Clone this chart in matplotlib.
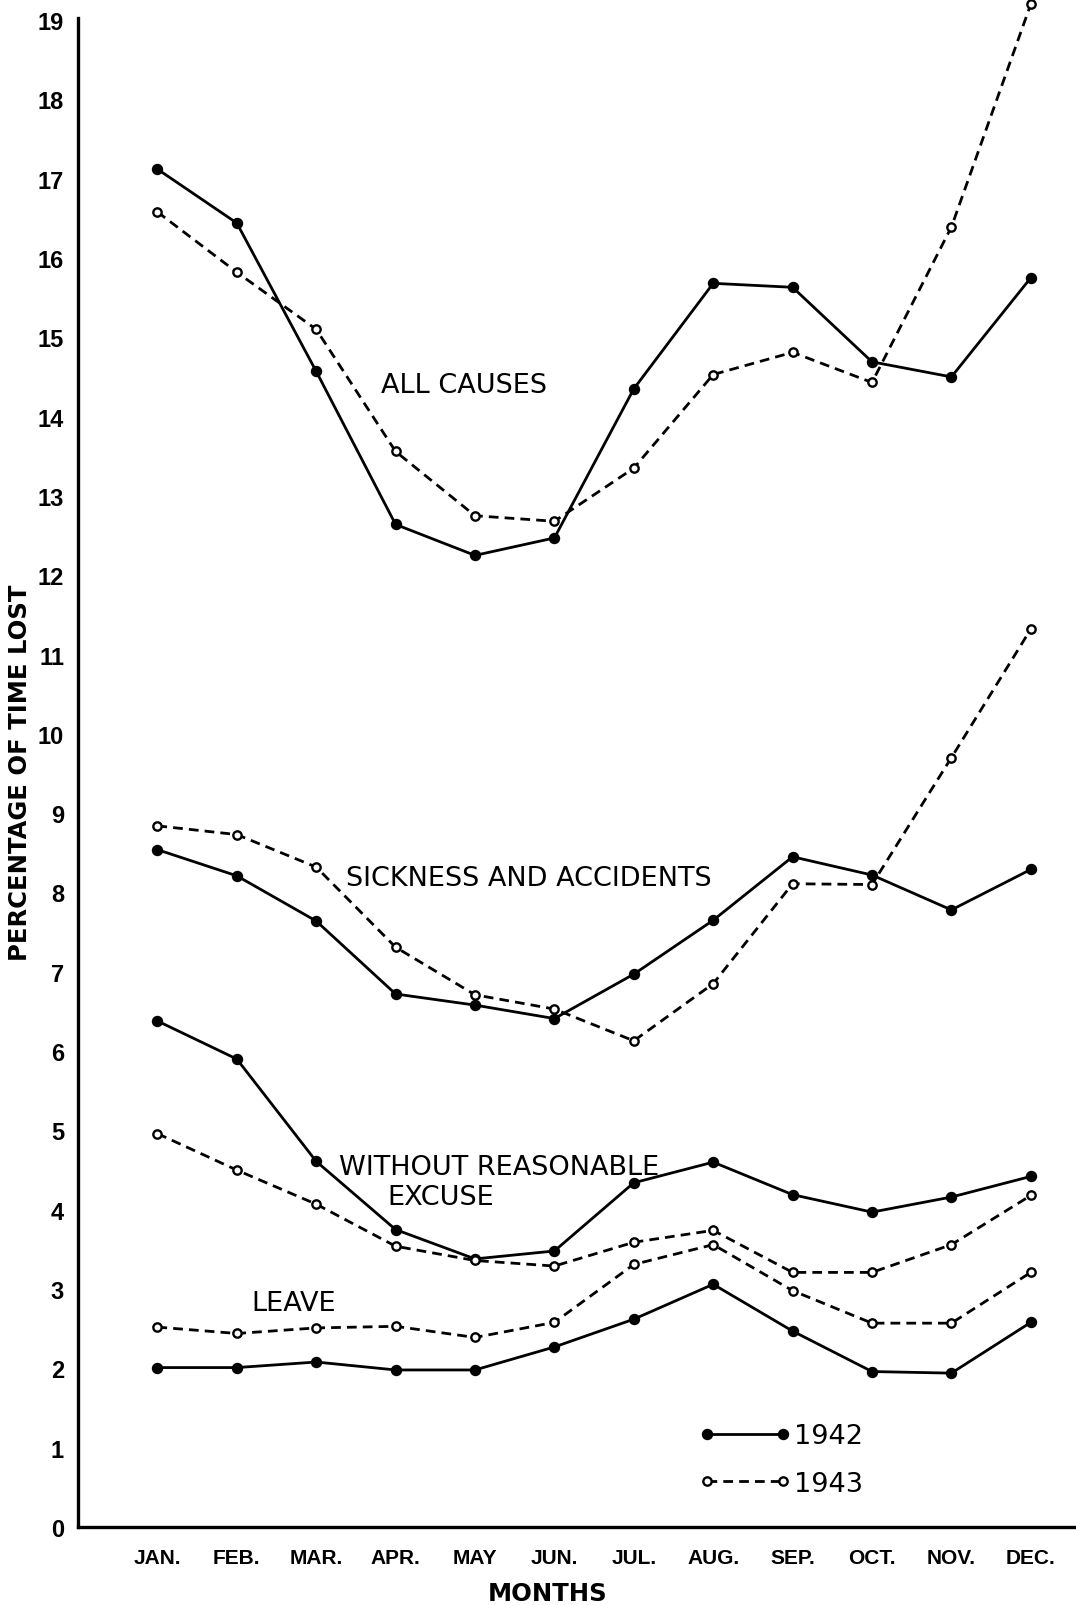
import matplotlib
matplotlib.use("Agg")
import matplotlib.pyplot as plt
from matplotlib.lines import Line2D

# months and values (percentage of time lost)
months = ["JAN.", "FEB.", "MAR.", "APR.", "MAY", "JUN.", "JUL.", "AUG.",
          "SEP.", "OCT.", "NOV.", "DEC."]

all_1942 = [17.12, 16.44, 14.57, 12.64, 12.25, 12.47, 14.35, 15.68, 15.63, 14.69, 14.50, 15.75]
all_1943 = [16.58, 15.82, 15.10, 13.56, 12.75, 12.68, 13.35, 14.53, 14.81, 14.43, 16.39, 19.20]

sick_1942 = [8.54, 8.21, 7.64, 6.72, 6.58, 6.41, 6.97, 7.65, 8.45, 8.22, 7.78, 8.29]
sick_1943 = [8.84, 8.73, 8.32, 7.31, 6.71, 6.53, 6.13, 6.85, 8.11, 8.10, 9.70, 11.32]

wre_1942 = [6.38, 5.90, 4.61, 3.75, 3.38, 3.48, 4.34, 4.60, 4.19, 3.97, 4.16, 4.42]
wre_1943 = [4.96, 4.50, 4.07, 3.54, 3.36, 3.29, 3.59, 3.74, 3.21, 3.21, 3.56, 4.18]

leave_1942 = [2.01, 2.01, 2.08, 1.98, 1.98, 2.27, 2.62, 3.06, 2.47, 1.96, 1.94, 2.58]
leave_1943 = [2.52, 2.44, 2.51, 2.53, 2.39, 2.58, 3.31, 3.56, 2.98, 2.57, 2.57, 3.21]

yticks = list(range(0, 20))

fig = plt.figure(figsize=(10.76, 16.06), dpi=100)
ax = fig.add_axes([78 / 1076, 78 / 1606, 998 / 1076, 1507 / 1606])

x = list(range(1, 13))
solid = dict(color="black", lw=2.0, ls="-", marker="o", ms=7.2, mfc="black",
             mec="black", clip_on=False, zorder=3)
dashed = dict(color="black", lw=2.0, ls=(0, (3.5, 2.2)), marker="o", ms=6,
              mfc="white", mec="black", mew=1.7, clip_on=False, zorder=3)

for s42, s43 in [(all_1942, all_1943), (sick_1942, sick_1943),
                 (wre_1942, wre_1943), (leave_1942, leave_1943)]:
    ax.plot(x, s42, **solid)
    ax.plot(x, s43, **dashed)

ax.set_xlim(0, 998 / 79.4)
ax.set_ylim(0, 19)

for side in ["top", "right"]:
    ax.spines[side].set_visible(False)
ax.spines["left"].set_linewidth(2.4)
ax.spines["bottom"].set_linewidth(2.4)
ax.spines["left"].set_bounds(0, 19.03)

ax.set_xticks(x)
ax.set_xticklabels(months, family="Liberation Sans", fontweight="bold", fontsize=15)
ax.set_yticks(yticks)
ax.set_yticklabels([str(v) for v in yticks], family="Liberation Sans",
                   fontweight="bold", fontsize=17)
ax.tick_params(axis="both", length=0)
ax.tick_params(axis="x", pad=15)
ax.tick_params(axis="y", pad=10)

fig.text(20 / 1076, 1 - 773 / 1606, "PERCENTAGE OF TIME LOST", rotation=90,
         ha="center", va="center", fontsize=17.5, fontweight="bold")
fig.text(548 / 1076, 1 - 1594 / 1606, "MONTHS", ha="center", va="center",
         fontsize=17.5, fontweight="bold")

lab = dict(ha="center", va="center", fontsize=19.5)
ax.text(4.86, 14.40, "ALL CAUSES", **lab)
ax.text(5.68, 8.18, "SICKNESS AND ACCIDENTS", **lab)
ax.text(5.30, 4.54, "WITHOUT REASONABLE", **lab)
ax.text(4.57, 4.16, "EXCUSE", **lab)
ax.text(2.72, 2.82, "LEAVE", **lab)

handles = [Line2D([], [], **{k: v for k, v in solid.items() if k != "clip_on"}),
           Line2D([], [], **{k: v for k, v in dashed.items() if k != "clip_on"})]
ax.legend(handles, ["1942", "1943"], loc="upper left",
          bbox_to_anchor=((699 - 78) / 998, (1528 - 1424) / 1507),
          frameon=False, numpoints=2, handlelength=3.4, handletextpad=0.1,
          labelspacing=0.8, borderpad=0, borderaxespad=0, fontsize=19.5)

fig.savefig("out.png", dpi=100, facecolor="white")
